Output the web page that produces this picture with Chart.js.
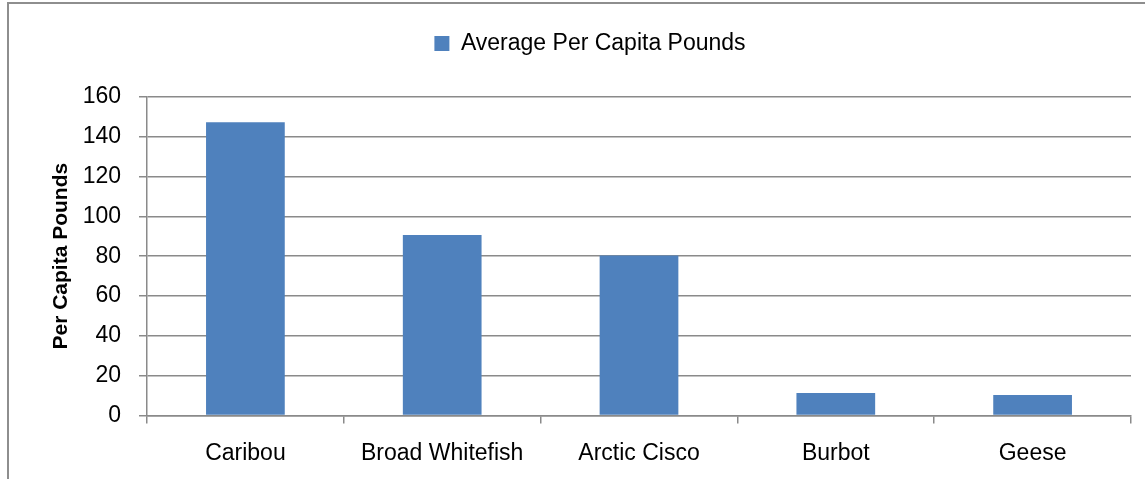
<!DOCTYPE html>
<html>
<head>
<meta charset="utf-8">
<script src="https://cdn.jsdelivr.net/npm/chart.js@4/dist/chart.umd.min.js"></script>
<style>
  html, body { margin: 0; padding: 0; background: #fff; overflow: hidden; }
  #frame { position: absolute; left: 7px; top: 2px; width: 1200px; height: 600px; border: 2px solid #8e8e8e; }
  #wrap { position: absolute; left: 0; top: 0; width: 1145px; height: 479px; }
</style>
</head>
<body>
<div id="frame"></div>
<div id="wrap"><canvas id="harvestChart" width="1145" height="479"></canvas></div>
<script>
const categories = ["Caribou", "Broad Whitefish", "Arctic Cisco", "Burbot", "Geese"];
const perCapitaPounds = [147.3, 90.7, 80.3, 11.3, 10.3];
const seriesLabel = "Average Per Capita Pounds";
const axisTitle = "Per Capita Pounds";

const FONT = "'Liberation Sans', Arial, sans-serif";
const GRID = "#8a8a8a";

// push the plot down below the legend
const legendSpacer = {
  id: "legendSpacer",
  beforeInit(chart) {
    const fit = chart.legend.fit;
    chart.legend.fit = function () {
      fit.bind(chart.legend)();
      this.height += 32;
    };
  },
};

new Chart(document.getElementById("harvestChart"), {
  type: "bar",
  data: {
    labels: categories,
    datasets: [{
      label: seriesLabel,
      data: perCapitaPounds,
      backgroundColor: "#4f81bd",
      borderColor: "#4f81bd",
      borderWidth: 0,
      categoryPercentage: 1,
      barPercentage: 0.4,
    }],
  },
  options: {
    responsive: false,
    animation: false,
    layout: { padding: { left: 49, right: 14, top: 22, bottom: -4 } },
    plugins: {
      legend: {
        position: "top",
        labels: { boxWidth: 15, boxHeight: 15, color: "#000", font: { family: FONT, size: 23 } },
      },
      tooltip: { enabled: false },
    },
    scales: {
      x: {
        grid: { offset: true, drawOnChartArea: false, drawTicks: true, tickLength: 8, color: GRID, lineWidth: 1.5 },
        border: { color: GRID, width: 1.5 },
        ticks: { color: "#000", padding: 16, font: { family: FONT, size: 23 } },
      },
      y: {
        min: 0,
        max: 160,
        afterFit(scale) { scale.width = 98; },
        ticks: { stepSize: 20, color: "#000", padding: 18, font: { family: FONT, size: 23 } },
        grid: { color: GRID, lineWidth: 1.5, tickLength: 8 },
        border: { color: GRID, width: 1.5 },
        title: { display: true, text: axisTitle, color: "#000", padding: 0, font: { family: FONT, size: 21, weight: "bold" } },
      },
    },
  },
  plugins: [legendSpacer],
});
</script>
</body>
</html>
